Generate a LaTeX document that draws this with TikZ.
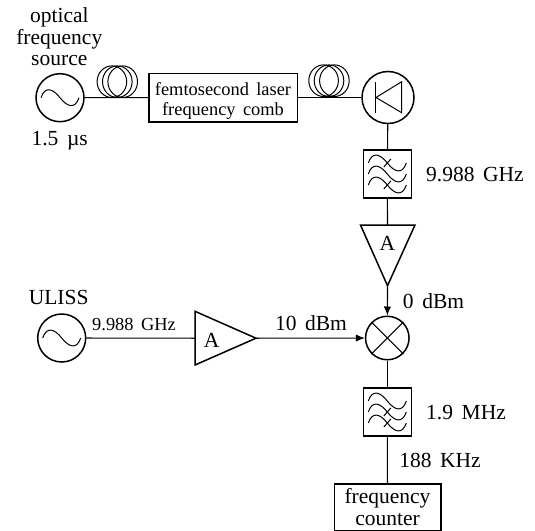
\documentclass[tikz,border=0pt]{standalone}
\usepackage{fontspec}
\setmainfont[WordSpace=1.6]{Liberation Serif}
\newcommand{\bigfont}{\fontsize{21.5}{21.5}\selectfont}
\newcommand{\smallfont}{\fontsize{18.4}{20.5}\selectfont}
\usetikzlibrary{arrows.meta}
\tikzset{
  wire/.style={line width=1.1pt},
  part/.style={line width=1.5pt},
  symbolline/.style={line width=1pt},
  circ/.style={circle,draw,part,inner sep=0pt,minimum size=#1},
  box/.style={rectangle,draw,part,inner sep=0pt,minimum width=#1},
  lab/.style={anchor=base,inner sep=0pt,font=\bigfont,align=center},
  slab/.style={anchor=base,inner sep=0pt,font=\smallfont,align=center},
  arrowwire/.style={wire,-{Latex[length=9pt,width=7.5pt]}},
}
\newcommand{\wave}[2]{%
  \draw[symbolline] (#1,#2) ++(-19,0) .. controls +(4,-12) and +(-7,-9) .. ++(19,0)
     .. controls +(7,9) and +(-4,12) .. ++(19,0);}
\newcommand{\filterwaves}[4]{%
  \wave{#1}{#2-11}
  \wave{#1}{#2}
  \wave{#1}{#2+11}
  \draw[symbolline] (#1,#2) ++(-3.5,{#3+4}) -- ++(7,-8);
  \draw[symbolline] (#1,#2) ++(-3.5,{#4+4}) -- ++(7,-8);}
\newcommand{\fibercoil}[1]{%
  \foreach \dx in {-5.4,0,5.4}{
    \draw[symbolline] (#1) ++(\dx,0) ellipse [x radius=14.8,y radius=15.8];}}
\begin{document}
\begin{tikzpicture}[x=1pt,y=-1pt]
\useasboundingbox (0,0) rectangle (535,530);
% main parts
\node[circ=48] (src) at (60,97.7) {};
\node[box=148.5,minimum height=48.5] (comb) at (223,97.5) {};
\node[circ=52] (pd) at (388,97.5) {};
\node[box=48,minimum height=48] (bpfa) at (387.3,174) {};
\coordinate (ampatopl) at (360.5,225);
\coordinate (ampatop) at (387.5,225);
\coordinate (ampatopr) at (415,225);
\coordinate (ampatip) at (387.5,285.7);
\node[circ=43.5] (mix) at (387.3,338) {};
\node[box=48,minimum height=48] (bpfb) at (387.3,412) {};
\node[box=106.5,minimum height=46.5] (cnt) at (387.5,507) {};
\node[circ=48] (uliss) at (61.7,338) {};
\coordinate (ampbl) at (195,338.2);
\coordinate (ampbtop) at (195,311.3);
\coordinate (ampbbot) at (195,365);
\coordinate (ampbtip) at (256,338.2);
\draw[part] (ampatopl) -- (ampatopr) -- (ampatip) -- cycle;
\draw[part] (ampbtop) -- (ampbtip) -- (ampbbot) -- cycle;
% fibre coils
\fibercoil{117.3,81.7}
\fibercoil{329,80.7}
% symbols
\wave{60}{97.7}
\wave{61.7}{338}
\draw[symbolline] (375,82) -- (375,112.5);
\draw[symbolline] (401.7,81.7) -- (376,97.5) -- (401.7,112.7) -- cycle;
\draw[symbolline] (mix.45) -- (mix.225);
\draw[symbolline] (mix.135) -- (mix.315);
\filterwaves{387.3}{174}{-11}{11}
\filterwaves{387.3}{412}{0}{11}
% connectors
\draw[wire] (src) -- (comb);
\draw[wire] (comb) -- (pd);
\draw[wire] (pd) -- (bpfa);
\draw[wire] (bpfa) -- (ampatop);
\draw[arrowwire] (ampatip) -- (mix);
\draw[wire] (uliss) -- (ampbl);
\draw[arrowwire] (ampbtip) -- (mix);
\draw[wire] (mix) -- (bpfb);
\draw[wire] (bpfb) -- (cnt);
% labels
\node[lab] (t1) at (59.3,22.7) {optical};
\node[lab] (t2) at (59.3,44) {frequency};
\node[lab] (t3) at (59.3,65.5) {source};
\node[lab] (t4) at (59.7,145) {1.5 µs};
\node[slab] (t5) at (223,95) {femtosecond laser};
\node[slab] (t6) at (223,115.5) {frequency comb};
\node[lab] (t7) at (475,181.7) {9.988 GHz};
\node[lab] (t8) at (387.5,250.7) {A};
\node[lab] (t9) at (433.5,308) {0 dBm};
\node[lab] (t10) at (58.7,304) {ULISS};
\node[slab] (t11) at (134,330) {9.988 GHz};
\node[lab] (t12) at (211.7,347) {A};
\node[lab] (t13) at (311,330) {10 dBm};
\node[lab] (t14) at (466,419) {1.9 MHz};
\node[lab] (t15) at (440,467.7) {188 KHz};
\node[lab] (t16) at (387.5,503) {frequency};
\node[lab] (t17) at (387.5,525) {counter};
\end{tikzpicture}
\end{document}
